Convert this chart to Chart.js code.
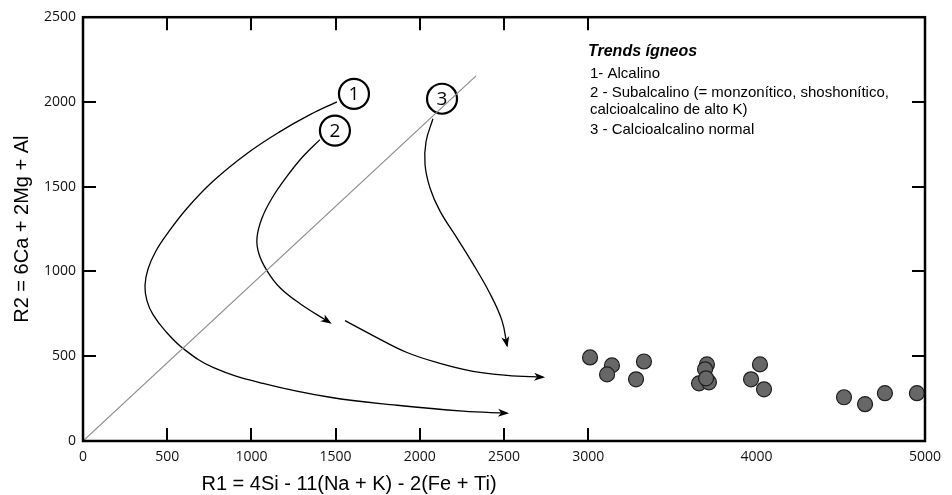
<!DOCTYPE html>
<html>
<head>
<meta charset="utf-8">
<title>R1-R2</title>
<script src="https://cdn.jsdelivr.net/npm/chart.js@4.4.1/dist/chart.umd.min.js"></script>
<style>
  html, body { margin: 0; padding: 0; background: #fff; }
  #wrap { width: 952px; height: 495px; }
</style>
</head>
<body>
<div id="wrap"><canvas id="r1r2Chart"></canvas></div>
<script>
// sample points (R1, R2)
const sampleR1 = [3011, 3141, 3112, 3331, 3284, 3705, 3694, 3658, 3717, 3700, 4020, 3967, 4044, 4519, 4644, 4762, 4952];
const sampleR2 = [493, 446, 393, 469, 364, 452, 423, 340, 346, 370, 452, 364, 305, 258, 217, 282, 282];

// trend paths, traced along each arrow
const trend1R1 = [1508, 1348, 1170, 974, 772, 618, 499, 433, 386, 368, 380, 416, 487, 594, 772, 1069, 1467, 1865, 2257, 2518];
const trend1R2 = [2001, 1925, 1825, 1696, 1532, 1373, 1221, 1121, 1015, 915, 827, 745, 651, 546, 434, 340, 258, 211, 176, 164];
const trend2R1 = [1407, 1306, 1211, 1122, 1063, 1033, 1045, 1093, 1170, 1289, 1467];
const trend2R2 = [1778, 1678, 1561, 1432, 1315, 1197, 1103, 1004, 904, 810, 698];
const trend2bR1 = [1556, 1722, 1924, 2120, 2316, 2518, 2732];
const trend2bR2 = [710, 622, 522, 458, 411, 387, 376];
const trend3R1 = [2078, 2037, 2031, 2061, 2120, 2221, 2316, 2417, 2488, 2518];
const trend3R2 = [1901, 1766, 1631, 1491, 1356, 1197, 1045, 869, 710, 563];

// numbered markers at the head of each trend
const markerIds = ['1', '2', '3'];
const markerR1 = [1609, 1496, 2132];
const markerR2 = [2048, 1831, 2019];

// grey reference line
const refR1 = [0, 2334];
const refR2 = [0, 2154];

const xTicks = [0, 500, 1000, 1500, 2000, 2500, 3000, 4000, 5000];
const yTicks = [0, 500, 1000, 1500, 2000, 2500];
const xMarks = [500, 1000, 1500, 2000, 2500, 3000];
const yMarks = [500, 1000, 1500, 2000];

const legendTitle = 'Trends ígneos';
const legendLines = [
    '1- Alcalino',
    '2 - Subalcalino (= monzonítico, shoshonítico,',
    'calcioalcalino de alto K)',
    '3 - Calcioalcalino normal'
];
const xTitle = 'R1 = 4Si - 11(Na + K) - 2(Fe + Ti)';
const yTitle = 'R2 = 6Ca + 2Mg + Al';

function toPoints(xs, ys) {
    return xs.map((x, i) => ({ x: x, y: ys[i] }));
}

function trendSet(xs, ys) {
    return {
        data: toPoints(xs, ys),
        showLine: true,
        tension: 0.4,
        borderColor: '#000',
        borderWidth: 1.3,
        pointRadius: 0,
        arrow: true,
        clip: false,
    };
}

// frame with inward ticks, arrowheads, marker numbers and text
const decorPlugin = {
    id: 'decor',
    afterDatasetsDraw(chart) {
        const ctx = chart.ctx;
        const area = chart.chartArea;
        const xs = chart.scales.x;
        const ys = chart.scales.y;
        ctx.save();

        // arrowheads at the end of each trend path
        chart.data.datasets.forEach((ds, i) => {
            if (!ds.arrow) return;
            const pts = chart.getDatasetMeta(i).data;
            const end = pts[pts.length - 1];
            let fx = end.cp1x, fy = end.cp1y;
            if (fx === undefined || (fx === end.x && fy === end.y)) {
                fx = pts[pts.length - 2].x;
                fy = pts[pts.length - 2].y;
            }
            const ang = Math.atan2(end.y - fy, end.x - fx);
            ctx.save();
            ctx.translate(end.x, end.y);
            ctx.rotate(ang);
            ctx.fillStyle = '#000';
            ctx.beginPath();
            ctx.moveTo(2, 0);
            ctx.lineTo(-9, -4);
            ctx.lineTo(-6, 0);
            ctx.lineTo(-9, 4);
            ctx.closePath();
            ctx.fill();
            ctx.restore();
        });

        // numbers inside the circles
        ctx.fillStyle = '#000';
        ctx.font = '19px "Open Sans", sans-serif';
        ctx.textAlign = 'center';
        ctx.textBaseline = 'middle';
        markerIds.forEach((id, i) => {
            ctx.fillText(id, xs.getPixelForValue(markerR1[i]), ys.getPixelForValue(markerR2[i]) + 1);
        });

        // frame
        ctx.strokeStyle = '#000';
        ctx.lineWidth = 2.5;
        ctx.strokeRect(area.left, area.top, area.right - area.left, area.bottom - area.top);
        ctx.lineWidth = 2;
        const tl = 13;
        ctx.beginPath();
        xMarks.forEach(v => {
            const px = Math.round(xs.getPixelForValue(v));
            ctx.moveTo(px, area.bottom);
            ctx.lineTo(px, area.bottom - tl);
            ctx.moveTo(px, area.top);
            ctx.lineTo(px, area.top + tl);
        });
        yMarks.forEach(v => {
            const py = Math.round(ys.getPixelForValue(v));
            ctx.moveTo(area.left, py);
            ctx.lineTo(area.left + tl, py);
            ctx.moveTo(area.right, py);
            ctx.lineTo(area.right - tl, py);
        });
        ctx.stroke();

        // trend legend
        ctx.textAlign = 'left';
        ctx.textBaseline = 'alphabetic';
        ctx.font = 'italic bold 16px "Liberation Sans", Arial, sans-serif';
        ctx.fillText(legendTitle, 588, 56);
        ctx.font = '15px "Liberation Sans", Arial, sans-serif';
        const baselines = [78, 97, 114, 134];
        legendLines.forEach((t, i) => ctx.fillText(t, 590, baselines[i]));

        // x axis title
        ctx.textAlign = 'center';
        ctx.font = '20px "Liberation Sans", Arial, sans-serif';
        ctx.fillText(xTitle, area.left + 266, 490);
        ctx.restore();
    }
};

new Chart(document.getElementById('r1r2Chart'), {
    type: 'scatter',
    data: {
        datasets: [
            {
                data: toPoints(refR1, refR2),
                showLine: true,
                borderColor: '#8c8c8c',
                borderWidth: 1.2,
                pointRadius: 0,
            },
            trendSet(trend1R1, trend1R2),
            trendSet(trend2R1, trend2R2),
            trendSet(trend2bR1, trend2bR2),
            trendSet(trend3R1, trend3R2),
            {
                data: toPoints(markerR1, markerR2),
                pointRadius: 15,
                backgroundColor: '#fff',
                borderColor: '#000',
                borderWidth: 2.2,
                clip: false,
            },
            {
                data: toPoints(sampleR1, sampleR2),
                pointRadius: 7.5,
                backgroundColor: '#676767',
                borderColor: '#1e1e1e',
                borderWidth: 1.2,
                clip: false,
            },
        ],
    },
    options: {
        responsive: true,
        maintainAspectRatio: false,
        animation: false,
        layout: { padding: { left: 0, top: 15, right: 27, bottom: 0 } },
        plugins: {
            legend: { display: false },
            tooltip: { enabled: false },
        },
        scales: {
            x: {
                type: 'linear',
                min: 0,
                max: 5000,
                grid: { display: false, drawTicks: false },
                border: { display: false },
                afterBuildTicks: s => { s.ticks = xTicks.map(v => ({ value: v })); },
                afterFit: s => { s.height = 54; },
                ticks: {
                    autoSkip: false,
                    maxRotation: 0,
                    padding: 8,
                    color: '#111',
                    font: { family: '"Open Sans", sans-serif', size: 14 },
                    callback: v => String(v),
                },
            },
            y: {
                type: 'linear',
                min: 0,
                max: 2500,
                grid: { display: false, drawTicks: false },
                border: { display: false },
                afterBuildTicks: s => { s.ticks = yTicks.map(v => ({ value: v })); },
                afterFit: s => { s.width = 83; },
                ticks: {
                    autoSkip: false,
                    padding: 7,
                    color: '#111',
                    font: { family: '"Open Sans", sans-serif', size: 14 },
                    callback: v => String(v),
                },
                title: {
                    display: true,
                    text: yTitle,
                    color: '#000',
                    padding: { top: 10, bottom: 0 },
                    font: { family: '"Liberation Sans", Arial, sans-serif', size: 20 },
                },
            },
        },
    },
    plugins: [decorPlugin],
});
</script>
</body>
</html>
